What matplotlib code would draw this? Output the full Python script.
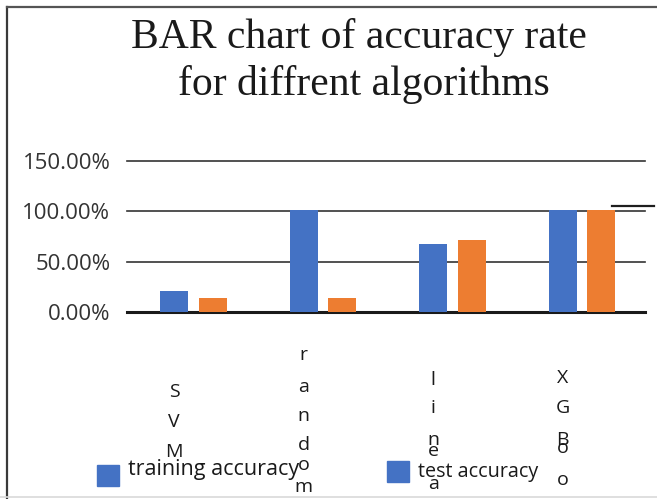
import numpy as np
import matplotlib
matplotlib.use('Agg')
import matplotlib.pyplot as plt
import matplotlib.transforms as mtransforms
from matplotlib.patches import Rectangle
from matplotlib.lines import Line2D
from matplotlib.ticker import PercentFormatter

# data
algorithms = ['SVM', 'random', 'linear', 'XGBoost']
training_accuracy = [0.206, 1.01, 0.674, 1.01]
test_accuracy = [0.136, 0.136, 0.714, 1.01]
series_names = ['training accuracy', 'test accuracy']
y_ticks = [0.0, 0.5, 1.0, 1.5]

W, H = 657, 499
BLUE = '#4472C4'
ORANGE = '#ED7D31'
SANS = 'Open Sans'

fig = plt.figure(figsize=(W / 100, H / 100), dpi=100)
fig.patch.set_facecolor('white')


def fx(px):
    return px / W


def fy(py):
    return 1 - py / H


# frame lines of the original chart box
fig.add_artist(Line2D([fx(7), fx(7)], [fy(6.5), fy(499)], color='#3a3a3a', lw=1.6))
fig.add_artist(Line2D([fx(7), 1], [fy(6.5), fy(6.5)], color='#555555', lw=1.6))
fig.add_artist(Line2D([0, 1], [fy(497), fy(497)], color='#d9d9d9', lw=1.2))
fig.add_artist(Line2D([fx(612), fx(654)], [fy(205.5), fy(205.5)], color='#1e1e1e', lw=1.6))

# title
fig.text(fx(359), fy(48), 'BAR chart of accuracy rate', ha='center', va='baseline',
         family='Liberation Serif', fontsize=30, color='#1a1a1a')
fig.text(fx(364), fy(95), 'for diffrent algorithms', ha='center', va='baseline',
         family='Liberation Serif', fontsize=30, color='#1a1a1a')

# axes box: x 127..645, y 0% at 312, 150% at 161
ax = fig.add_axes([fx(127), fy(312), (645 - 127) / W, (312 - 161) / H])
ax.set_xlim(-0.5, len(algorithms) - 0.5)
ax.set_ylim(0, 1.5)
for s in ax.spines.values():
    s.set_visible(False)

x = np.arange(len(algorithms))
bw = 0.216
ax.bar(x - 0.135, training_accuracy, width=bw, color=BLUE, zorder=3)
ax.bar(x + 0.162, test_accuracy, width=bw, color=ORANGE, zorder=3)

for t in y_ticks:
    ax.axhline(t, color='#1a1a1a' if t == 0 else '#333333',
               lw=2.2 if t == 0 else 1.2, zorder=2, clip_on=False)

ax.set_yticks(y_ticks)
ax.yaxis.set_major_formatter(PercentFormatter(1.0, decimals=2))
ax.tick_params(axis='y', length=0, pad=12, labelsize=16, labelcolor='#333333')
for lab in ax.get_yticklabels():
    lab.set_family(SANS)
ax.set_xticks([])

# vertical category labels, one letter per line (baselines in px);
# letters that fall below the picture are not drawn
letter_baselines = [
    [397, 427, 457],
    [360, 392, 421, 450, 470, 492],
    [385, 413, 445, 456, 489],
    [383, 413, 445, 453, 485],
]
trans = mtransforms.blended_transform_factory(ax.transData, fig.transFigure)
for i, name in enumerate(algorithms):
    for ch, base in zip(name, letter_baselines[i]):
        ax.text(i - 0.135, fy(base), ch, transform=trans, ha='center',
                va='baseline', family=SANS, fontsize=14, color='#1a1a1a',
                clip_on=False)

# legend (both swatches blue in the reference)
fig.add_artist(Rectangle((fx(97), fy(486)), 22 / W, 21 / H, color=BLUE))
fig.text(fx(128), fy(475), series_names[0], ha='left', va='baseline',
         family=SANS, fontsize=15.5, color='#1a1a1a')
fig.add_artist(Rectangle((fx(387), fy(482)), 22 / W, 21 / H, color=BLUE))
fig.text(fx(418), fy(477), series_names[1], ha='left', va='baseline',
         family=SANS, fontsize=14.2, color='#1a1a1a')

fig.savefig('out.png', dpi=100)
